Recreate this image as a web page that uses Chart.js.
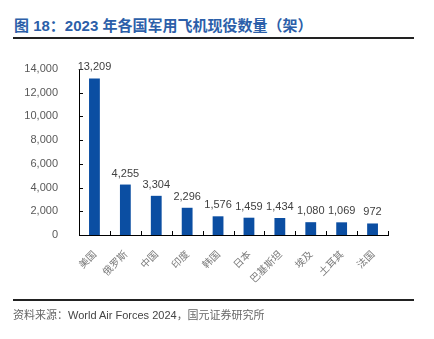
<!DOCTYPE html>
<html lang="zh">
<head>
<meta charset="UTF-8">
<title>2023 年各国军用飞机现役数量</title>
<script src="https://cdn.jsdelivr.net/npm/chart.js@4.4.1/dist/chart.umd.min.js"></script>
<style>
  html, body { margin: 0; padding: 0; background: #fff; }
  .page { position: relative; width: 434px; height: 339px; overflow: hidden; }
  .title {
    position: absolute; left: 14px; top: 14px;
    font: bold 15px "Liberation Sans", "Noto Sans CJK SC", sans-serif;
    color: #2c5fa9; white-space: nowrap;
  }
  .rule { position: absolute; left: 13px; width: 401px; background: #222; }
  .rule.top { top: 37px; height: 2px; }
  .rule.bottom { top: 299px; height: 2px; }
  .source {
    position: absolute; left: 13px; top: 306px;
    font: 11px "Liberation Sans", "Noto Sans CJK SC", sans-serif;
    color: #444; white-space: nowrap;
  }
  .source .cn { color: #666; }
  canvas { position: absolute; left: 0; top: 0; }
</style>
</head>
<body>
<div class="page">
  <div class="title">图 18：2023 年各国军用飞机现役数量（架）</div>
  <div class="rule top"></div>
  <canvas id="plot" width="434" height="339"></canvas>
  <div class="rule bottom"></div>
  <div class="source"><span class="cn">资料来源：</span>World Air Forces 2024<span class="cn">，国元证券研究所</span></div>
</div>

<script>
  const countries = ['美国', '俄罗斯', '中国', '印度', '韩国', '日本', '巴基斯坦', '埃及', '土耳其', '法国'];
  const aircraft = [13209, 4255, 3304, 2296, 1576, 1459, 1434, 1080, 1069, 972];
  const yTicks = [0, 2000, 4000, 6000, 8000, 10000, 12000, 14000];

  const fmt = (v) => v.toLocaleString('en-US');

  // inward tick marks on both axes + value labels over the bars
  const decor = {
    id: 'decor',
    afterDatasetsDraw(chart) {
      const ctx = chart.ctx;
      const x = chart.scales.x, y = chart.scales.y;
      const area = chart.chartArea;
      ctx.save();
      ctx.strokeStyle = '#000';
      ctx.lineWidth = 1;
      ctx.beginPath();
      yTicks.forEach((t) => {
        const py = Math.round(y.getPixelForValue(t)) + 0.5;
        ctx.moveTo(area.left, py);
        ctx.lineTo(area.left + 4, py);
      });
      const step = (area.right - area.left) / countries.length;
      for (let i = 1; i <= countries.length; i++) {
        const px = Math.round(x.getPixelForValue(i - 1) + step / 2) + 0.5;
        ctx.moveTo(px, area.bottom);
        ctx.lineTo(px, area.bottom - 4);
      }
      ctx.stroke();

      ctx.fillStyle = '#404040';
      ctx.font = '11px "Liberation Sans", sans-serif';
      ctx.textAlign = 'center';
      ctx.textBaseline = 'alphabetic';
      chart.getDatasetMeta(0).data.forEach((bar, i) => {
        ctx.fillText(fmt(aircraft[i]), bar.x, bar.y - 8);
      });
      ctx.restore();
    }
  };

  new Chart(document.getElementById('plot'), {
    type: 'bar',
    data: {
      labels: countries,
      datasets: [{
        data: aircraft,
        backgroundColor: '#0b4ea2',
        barPercentage: 0.7,
        categoryPercentage: 0.5
      }]
    },
    options: {
      responsive: false,
      animation: false,
      devicePixelRatio: 1,
      layout: { padding: { left: 0, top: 69, right: 46, bottom: 0 } },
      plugins: { legend: { display: false }, tooltip: { enabled: false } },
      scales: {
        x: {
          grid: { display: false },
          border: { display: true, color: '#000', width: 1 },
          ticks: {
            minRotation: 45, maxRotation: 45, padding: 5,
            color: '#7a7a7a',
            font: { family: '"Noto Sans CJK SC", sans-serif', size: 10 }
          },
          afterFit: (s) => { s.height = 104; }
        },
        y: {
          min: 0, max: 14000,
          afterBuildTicks: (s) => { s.ticks = yTicks.map((v) => ({ value: v })); },
          grid: { display: false },
          border: { display: true, color: '#000', width: 1 },
          ticks: {
            padding: 13,
            color: '#595959',
            font: { family: '"Liberation Sans", sans-serif', size: 11 },
            callback: (v) => fmt(v)
          },
          afterFit: (s) => { s.width = 79; }
        }
      }
    },
    plugins: [decor]
  });
</script>
</body>
</html>
